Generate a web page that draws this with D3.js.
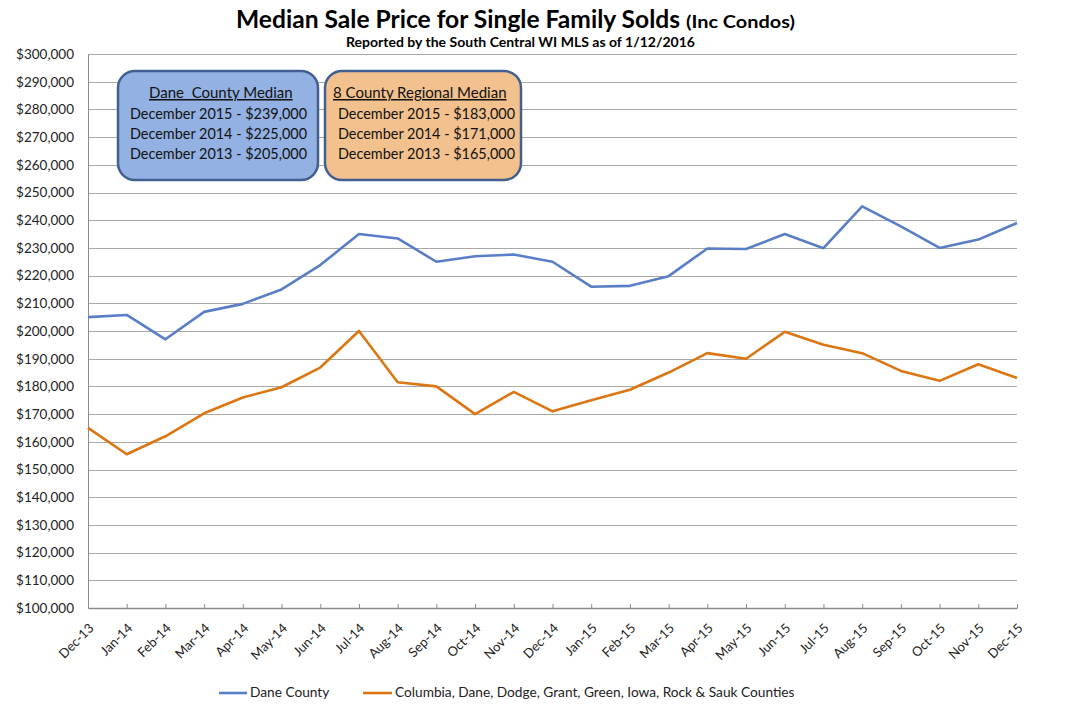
<!DOCTYPE html>
<html><head><meta charset="utf-8">
<script src="https://cdn.jsdelivr.net/npm/d3@7/dist/d3.min.js"></script>
<style>
body{margin:0;background:#fff;}
svg{display:block;font-family:Lato,"Open Sans",sans-serif;}
</style></head>
<body>
<svg id="chart" width="1071" height="711"></svg>
<script>
const months = ["Dec-13","Jan-14","Feb-14","Mar-14","Apr-14","May-14","Jun-14","Jul-14","Aug-14","Sep-14","Oct-14","Nov-14","Dec-14","Jan-15","Feb-15","Mar-15","Apr-15","May-15","Jun-15","Jul-15","Aug-15","Sep-15","Oct-15","Nov-15","Dec-15"];
const daneCounty = [205000,205800,197000,206900,209800,215000,223800,235000,233400,225000,227000,227600,225000,216000,216300,219800,229800,229600,235000,229900,245000,237800,230000,233000,239000];
const regional = [165000,155500,162000,170300,176000,179700,186800,200000,181500,180000,170000,178000,171000,175000,178800,185000,192000,190000,199700,195000,192000,185600,182000,188000,183000];
const yTicks = [100000,110000,120000,130000,140000,150000,160000,170000,180000,190000,200000,210000,220000,230000,240000,250000,260000,270000,280000,290000,300000];
const seriesNames = ["Dane County","Columbia, Dane, Dodge, Grant, Green, Iowa, Rock & Sauk Counties"];
const boxDane = ["Dane  County Median","December 2015 - $239,000","December 2014 - $225,000","December 2013 - $205,000"];
const boxRegional = ["8 County Regional Median","December 2015 - $183,000","December 2014 - $171,000","December 2013 - $165,000"];

const svg = d3.select("#chart");
const L = 88, R = 1017, T = 54, B = 608;
const x = d3.scalePoint().domain(months).range([L, R]);
const y = d3.scaleLinear().domain([100000, 300000]).range([B, T]);
const fmt = d3.format("$,.0f");

function fit(sel, w){
  sel.each(function(){
    const cur = this.getComputedTextLength();
    if (Math.abs(cur - w) > 2) { this.setAttribute("textLength", w); this.setAttribute("lengthAdjust","spacingAndGlyphs"); }
  });
}

// gridlines
svg.append("g").selectAll("line").data(yTicks.slice(1)).join("line")
  .attr("x1", L).attr("x2", R).attr("y1", d=>Math.round(y(d))+0.5).attr("y2", d=>Math.round(y(d))+0.5)
  .attr("stroke", "#a8a8a8").attr("stroke-width", 1);

// y axis
const yAxis = svg.append("g").attr("transform", `translate(${L},0)`)
  .call(d3.axisLeft(y).tickValues(yTicks).tickFormat(fmt).tickSize(0).tickPadding(14));
yAxis.select(".domain").attr("stroke", "#8c8c8c");
yAxis.selectAll("text").attr("font-size", 13.5).attr("fill", "#222").attr("font-family","Lato");

// x axis
const xAxis = svg.append("g").attr("transform", `translate(0,${B})`)
  .call(d3.axisBottom(x).tickSizeInner(-4).tickSizeOuter(0).tickPadding(0));
xAxis.select(".domain").attr("stroke", "#8c8c8c").attr("stroke-width", 1.5);
xAxis.selectAll(".tick line").attr("stroke", "#8c8c8c");
xAxis.selectAll("text").attr("font-size", 13).attr("fill", "#222").attr("font-family","Lato")
  .attr("text-anchor", "end").attr("dy", 0).attr("y", 0)
  .attr("transform", "translate(6,21) rotate(-45)");

// lines
const line = d3.line().x((d,i)=>x(months[i])).y(d=>y(d));
svg.append("path").datum(daneCounty).attr("d", line).attr("fill","none")
  .attr("stroke","#5a7ec6").attr("stroke-width",2.6).attr("stroke-linejoin","round");
svg.append("path").datum(regional).attr("d", line).attr("fill","none")
  .attr("stroke","#dc7612").attr("stroke-width",2.6).attr("stroke-linejoin","round");

// title
svg.append("text").attr("x", 236).attr("y", 28).attr("font-weight", "bold").attr("fill","#000")
  .attr("font-size", 25).text("Median Sale Price for Single Family Solds").call(fit, 444);
svg.append("text").attr("x", 686).attr("y", 28).attr("font-weight", "bold").attr("fill","#000")
  .attr("font-size", 16.5).text("(Inc Condos)").call(fit, 109);
svg.append("text").attr("x", 346).attr("y", 47).attr("font-size", 13)
  .attr("font-weight","bold").attr("fill","#000").text("Reported by the South Central WI MLS as of 1/12/2016").call(fit, 349);

// info boxes
function box(x0, x1, fill, lines, hx, hw, lx, lw){
  svg.append("rect").attr("x", x0).attr("y", 71).attr("width", x1-x0).attr("height", 109)
    .attr("rx", 17).attr("fill", fill).attr("stroke", "#41608f").attr("stroke-width", 2.5);
  const ys = [98, 119, 139, 159];
  lines.forEach((t,i)=>{
    const el = svg.append("text").attr("y", ys[i]).attr("font-size", 15).attr("fill","#111")
      .style("white-space","pre").text(t);
    if (i===0){ el.attr("x", hx).attr("text-decoration","underline").call(fit, hw); }
    else { el.attr("x", lx).call(fit, lw); }
  });
}
box(118, 318, "#94b1e3", boxDane, 149, 142, 130, 177);
box(325, 521, "#f2c18e", boxRegional, 333, 173, 338, 177);

// legend
const leg = svg.append("g");
leg.append("line").attr("x1",219).attr("x2",247).attr("y1",693).attr("y2",693).attr("stroke","#5a7ec6").attr("stroke-width",2.6);
leg.append("text").attr("x",250).attr("y",697).attr("font-size",13.7).attr("fill","#222").text(seriesNames[0]);
leg.append("line").attr("x1",363).attr("x2",392).attr("y1",693).attr("y2",693).attr("stroke","#dc7612").attr("stroke-width",2.6);
leg.append("text").attr("x",395).attr("y",697).attr("font-size",13.7).attr("fill","#222").text(seriesNames[1]);
</script>
</body></html>
